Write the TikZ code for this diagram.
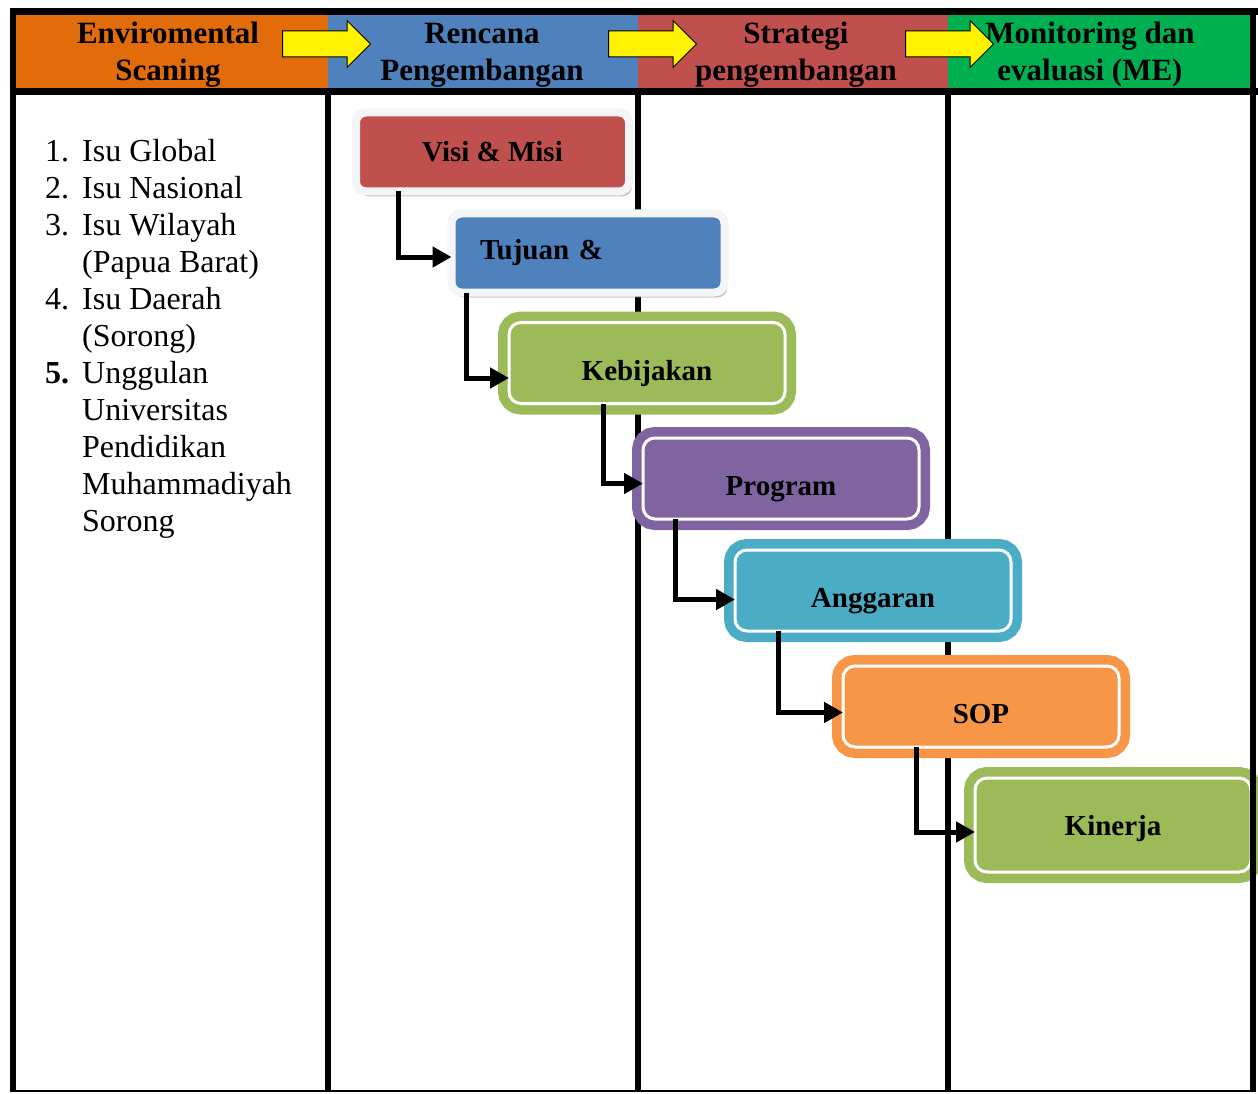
\documentclass[tikz,border=0pt]{standalone}
\usepackage{fontspec}
\setmainfont{Liberation Serif}
\usetikzlibrary{shapes.arrows,shadows,arrows.meta}
\definecolor{hdrorange}{HTML}{E36C0A}
\definecolor{hdrblue}{HTML}{4F81BD}
\definecolor{hdrred}{HTML}{C0504D}
\definecolor{hdrgreen}{HTML}{00B050}
\definecolor{visired}{HTML}{C0504D}
\definecolor{tujuanblue}{HTML}{4F81BD}
\definecolor{olivegreen}{HTML}{9BBB59}
\definecolor{progpurple}{HTML}{8064A2}
\definecolor{angteal}{HTML}{4BACC6}
\definecolor{soporange}{HTML}{F79646}
\begin{document}
\begin{tikzpicture}[x=1pt,y=-1pt,
  hdr/.style={align=center,font=\fontsize{31}{37}\selectfont\bfseries},
  yarrow/.style={shape=single arrow,draw=black,line width=1pt,fill=yellow,minimum height=88pt,inner xsep=0pt,inner ysep=12.5pt,single arrow head extend=10.5pt,anchor=tail},
  flatbox/.style={draw=gray!8,line width=8pt,rounded corners=10pt,outer sep=0pt,minimum width=273pt,minimum height=79pt,font=\fontsize{29}{34}\selectfont\bfseries,drop shadow={shadow xshift=3pt,shadow yshift=-5pt,fill=black!45}},
  ringbox/.style={fill=#1,draw=white,line width=3pt,rounded corners=12pt,outer sep=0pt,preaction={draw=#1,line width=22pt},minimum width=276pt,minimum height=81pt,text height=40pt,text depth=6pt,font=\fontsize{29}{34}\selectfont\bfseries},
  flow/.style={line width=5pt,-{Triangle[length=19pt,width=20pt]}}
]
\useasboundingbox (0,0) rectangle (1258,1094);
\clip (0,0) rectangle (1258,1094);
% header
\fill[hdrorange] (13,12) rectangle (328,92);
\fill[hdrblue] (328,12) rectangle (638,92);
\fill[hdrred] (638,12) rectangle (948,92);
\fill[hdrgreen] (948,12) rectangle (1253,92);
\node[hdr] (envscan) at (168,55) {Enviromental\\Scaning};
\node[hdr] (rencana) at (482,55) {Rencana\\Pengembangan};
\node[hdr] (strategi) at (796,55) {Strategi\\pengembangan};
\node[hdr] (monev) at (1090,55) {Monitoring dan\\evaluasi (ME)};
\node[yarrow] (arr1) at (282,44) {};
\node[yarrow] (arr2) at (608,44) {};
\node[yarrow] (arr3) at (905,44) {};
% columns
\foreach \cx in {328,638,948}
  \draw[line width=6pt] (\cx,92) -- (\cx,1091);
% issues list
\node[anchor=north west,inner sep=0pt,font=\fontsize{32}{37}\selectfont] (issues) at (45,135) {%
\begin{tabular}{@{}l@{\hspace{13pt}}l@{}}
1. & Isu Global\\
2. & Isu Nasional\\
3. & Isu Wilayah\\
   & (Papua Barat)\\
4. & Isu Daerah\\
   & (Sorong)\\
\textbf{5.} & Unggulan\\
   & Universitas\\
   & Pendidikan\\
   & Muhammadiyah\\
   & Sorong
\end{tabular}};
% steps
\node[flatbox,fill=visired] (visi) at (492.5,152) {Visi \& Misi};
\node[flatbox,fill=tujuanblue,text width=216pt,inner xsep=28pt,align=left] (tujuan) at (588,253) {Tujuan \&};
\node[ringbox=olivegreen] (kebijakan) at (647,363) {Kebijakan};
\node[ringbox=progpurple] (program) at (781,478.5) {Program};
\node[ringbox=angteal] (anggaran) at (873,590.5) {Anggaran};
\node[ringbox=soporange] (sop) at (981,706.5) {SOP};
\node[ringbox=olivegreen,minimum height=94pt,text height=26pt] (kinerja) at (1113,825) {Kinerja};
\draw[flow] ([xshift=42pt]visi.south west) |- ([yshift=-4pt]tujuan.west);
\draw[flow] ([xshift=15pt]tujuan.south west) |- ([yshift=-15pt]kebijakan.west);
\draw[flow] ([xshift=94pt]kebijakan.south west) |- ([yshift=-5pt]program.west);
\draw[flow] ([xshift=32pt]program.south west) |- ([yshift=-9pt]anggaran.west);
\draw[flow] ([xshift=43pt]anggaran.south west) |- ([yshift=-6pt]sop.west);
\draw[flow] ([xshift=73pt]sop.south west) |- ([yshift=-7pt]kinerja.west);
% frame
\draw[line width=7pt] (10,12) -- (1258,12);
\draw[line width=7pt] (10,92) -- (1258,92);
\draw[line width=6pt] (13,9) -- (13,1092);
\draw[line width=6pt] (1253,9) -- (1253,1092);
\draw[line width=2pt] (10,1091) -- (1256,1091);
\end{tikzpicture}
\end{document}
